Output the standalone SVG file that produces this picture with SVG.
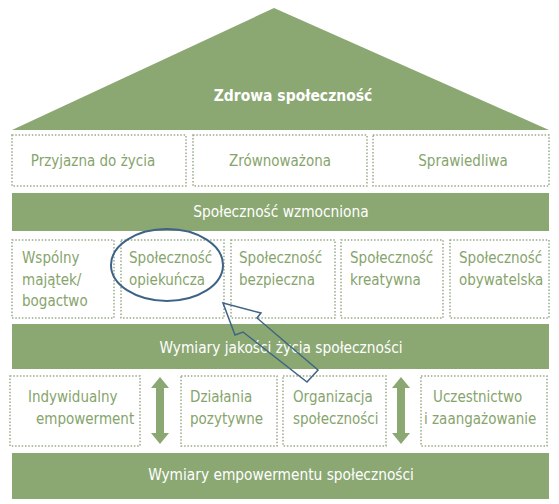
<svg xmlns="http://www.w3.org/2000/svg" width="559" height="504" viewBox="0 0 559 504">
<style>
.band{fill:#8ba873}
.box{fill:#fff;stroke:#98aa88;stroke-width:1.5;stroke-dasharray:1.5 1.8}
.t{font-family:"DejaVu Sans Condensed","DejaVu Sans",sans-serif;font-stretch:condensed;font-size:15px;fill:#86a46c}
.w{font-family:"DejaVu Sans Condensed","DejaVu Sans",sans-serif;font-stretch:condensed;font-size:15.3px;fill:#fff}
.c{text-anchor:middle}
.dbl{fill:#8ba873}
</style>
<rect width="559" height="504" fill="#fff"/>
<g id="roof">
<polygon class="band" points="274,8 549,130 12,130"/>
<text class="w c" x="293" y="101" style="font-size:15.5px;font-weight:bold">Zdrowa społeczność</text>
</g>
<g id="row1">
<g id="przyjazna"><rect class="box" x="12" y="135" width="174" height="51"/><text class="t c" x="93" y="166">Przyjazna do życia</text></g>
<g id="zrownowazona"><rect class="box" x="193" y="135" width="174" height="51"/><text class="t c" x="280" y="166">Zrównoważona</text></g>
<g id="sprawiedliwa"><rect class="box" x="373" y="135" width="176" height="51"/><text class="t c" x="463" y="166">Sprawiedliwa</text></g>
</g>
<g id="wzmocniona">
<rect class="band" x="12" y="193" width="537" height="38"/>
<text class="w c" x="281" y="217">Społeczność wzmocniona</text>
</g>
<g id="row2">
<g id="wspolny"><rect class="box" x="12" y="240" width="102" height="78"/><text class="t" x="22" y="263">Wspólny</text><text class="t" x="22" y="285">majątek/</text><text class="t" x="22" y="306">bogactwo</text></g>
<g id="opiekuncza"><rect class="box" x="121" y="240" width="103" height="78"/><text class="t" x="129" y="263">Społeczność</text><text class="t" x="129" y="285">opiekuńcza</text></g>
<g id="bezpieczna"><rect class="box" x="231" y="240" width="104" height="78"/><text class="t" x="239" y="263">Społeczność</text><text class="t" x="239" y="285">bezpieczna</text></g>
<g id="kreatywna"><rect class="box" x="341" y="240" width="102" height="78"/><text class="t" x="350" y="263">Społeczność</text><text class="t" x="350" y="285">kreatywna</text></g>
<g id="obywatelska"><rect class="box" x="450" y="240" width="99" height="78"/><text class="t" x="459" y="263">Społeczność</text><text class="t" x="459" y="285">obywatelska</text></g>
</g>
<g id="jakosc">
<rect class="band" x="12" y="324" width="537" height="45"/>
<text class="w c" x="281" y="353">Wymiary jakości życia społeczności</text>
</g>
<g id="row3">
<g id="indywidualny"><rect class="box" x="10" y="376" width="130" height="70"/><text class="t" x="28" y="402">Indywidualny</text><text class="t" x="36" y="424">empowerment</text></g>
<g id="dzialania"><rect class="box" x="181" y="376" width="96" height="70"/><text class="t" x="190" y="402">Działania</text><text class="t" x="190" y="424">pozytywne</text></g>
<g id="organizacja"><rect class="box" x="283" y="376" width="103" height="70"/><text class="t" x="293" y="402">Organizacja</text><text class="t" x="293" y="424">społeczności</text></g>
<g id="uczestnictwo"><rect class="box" x="421" y="376" width="126" height="70"/><text class="t" x="433" y="402">Uczestnictwo</text><text class="t" x="424" y="424">i zaangażowanie</text></g>
</g>
<g id="empowerment">
<rect class="band" x="12" y="453" width="537" height="46"/>
<text class="w c" x="281" y="480">Wymiary empowermentu społeczności</text>
</g>
<g id="connectors">
<polygon class="dbl" points="160,377 169,388 164,388 164,433 169,433 160,444 151,433 156,433 156,388 151,388"/>
<polygon class="dbl" points="401,377 410,388 405,388 405,433 410,433 401,444 392,433 397,433 397,388 392,388"/>
<ellipse cx="167" cy="265" rx="56" ry="36" fill="none" stroke="#3d6385" stroke-width="2"/>
<polygon points="223,303 261,313 257,318 318,370 307,382 243,332 235,335" fill="none" stroke="#3f6584" stroke-width="1.5" stroke-linejoin="miter"/>
</g>
</svg>
